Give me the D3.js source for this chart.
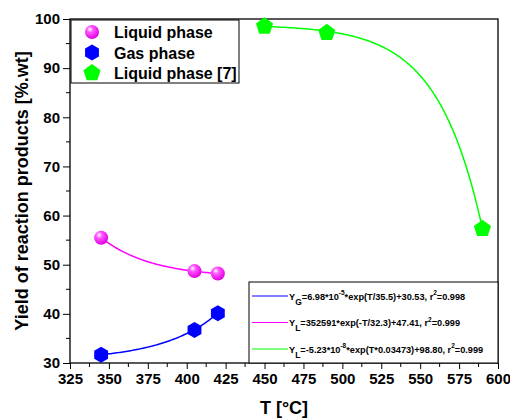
<!DOCTYPE html>
<html>
<head>
<meta charset="utf-8">
<script src="https://cdn.jsdelivr.net/npm/d3@7"></script>
<style>
  body { margin: 0; background: #fff; }
  text { font-family: Arial, "Liberation Sans", sans-serif; font-weight: bold; }
</style>
</head>
<body>
<svg id="chart" width="510" height="418"></svg>
<script>
// measured points
const liquidT = [345, 405, 420];
const liquidY = [55.5, 48.7, 48.2];
const gasT = [345, 405, 420];
const gasY = [31.7, 36.7, 40.1];
const lit7T = [450, 490, 590];
const lit7Y = [98.5, 97.2, 57.3];

// fitted curves, coefficients as printed in the fit legend
// form: y = a*exp(b*T) + c
const fitNames = ['gas', 'liquid', 'lit7'];
const fitA = [6.98e-5, 352591, -5.23e-8];
const fitB = [1 / 35.5, -1 / 32.3, 0.03473];
const fitC = [30.53, 47.41, 98.80];
const fitFrom = [345, 345, 450];
const fitTo = [420, 420, 590];
const fitColors = ['#0000ff', '#ff00ff', '#00ff00'];

const xTicks = [325, 350, 375, 400, 425, 450, 475, 500, 525, 550, 575, 600];
const yTicks = [30, 40, 50, 60, 70, 80, 90, 100];

const svg = d3.select('#chart');
const pLeft = 70, pRight = 498, pTop = 19, pBottom = 363;

const xScale = d3.scaleLinear().domain([325, 600]).range([pLeft, pRight]);
const yScale = d3.scaleLinear().domain([30, 100]).range([pBottom, pTop]);

// sphere gradient
const defs = svg.append('defs');
const grad = defs.append('radialGradient')
    .attr('id', 'sphere')
    .attr('cx', '40%').attr('cy', '35%').attr('r', '65%')
    .attr('fx', '35%').attr('fy', '30%');
grad.append('stop').attr('offset', '0%').attr('stop-color', '#ffffff');
grad.append('stop').attr('offset', '35%').attr('stop-color', '#ff55ff');
grad.append('stop').attr('offset', '100%').attr('stop-color', '#e000e0');

function polygon(n, r, rot) {
    const pts = d3.range(n).map(i => {
        const a = rot + i * 2 * Math.PI / n;
        return [r * Math.cos(a), r * Math.sin(a)];
    });
    return 'M' + pts.join('L') + 'Z';
}
const hexPath = polygon(6, 8, -Math.PI / 2);
const pentPath = polygon(5, 9, -Math.PI / 2);

function drawSphere(g, x, y) {
    g.append('circle').attr('cx', x).attr('cy', y).attr('r', 7).attr('fill', 'url(#sphere)');
}
function drawHex(g, x, y) {
    g.append('path').attr('d', hexPath).attr('transform', `translate(${x},${y})`).attr('fill', '#0000ff');
}
function drawPent(g, x, y) {
    g.append('path').attr('d', pentPath).attr('transform', `translate(${x},${y})`).attr('fill', '#00ff00');
}

//x-Axis
const xAxis = d3.axisBottom(xScale).tickValues(xTicks).tickSize(6).tickPadding(4).tickFormat(d3.format('d'));
const xg = svg.append('g').attr('transform', `translate(0,${pBottom})`).call(xAxis);
xg.selectAll('text').attr('font-size', 15).attr('fill', '#000').attr('font-weight', 'bold');
xg.select('.domain').remove();
const xMinor = d3.range(337.5, 600, 25);
xg.selectAll('.minor').data(xMinor).enter().append('line')
    .attr('x1', d => xScale(d)).attr('x2', d => xScale(d))
    .attr('y1', 0).attr('y2', 4).attr('stroke', '#000');

//y-Axis
const yAxis = d3.axisLeft(yScale).tickValues(yTicks).tickSize(7).tickPadding(3);
const yg = svg.append('g').attr('transform', `translate(${pLeft},0)`).call(yAxis);
yg.selectAll('text').attr('font-size', 15).attr('fill', '#000').attr('font-weight', 'bold');
yg.select('.domain').remove();
const yMinor = d3.range(35, 100, 10);
yg.selectAll('.minor').data(yMinor).enter().append('line')
    .attr('x1', 0).attr('x2', -4)
    .attr('y1', d => yScale(d)).attr('y2', d => yScale(d)).attr('stroke', '#000');

// frame
svg.append('rect')
    .attr('x', pLeft).attr('y', pTop)
    .attr('width', pRight - pLeft).attr('height', pBottom - pTop)
    .attr('fill', 'none').attr('stroke', '#000').attr('stroke-width', 1.3);

// axis labels
svg.append('text')
    .attr('x', (pLeft + pRight) / 2).attr('y', 414)
    .attr('text-anchor', 'middle').attr('font-size', 18)
    .text('T [°C]');
svg.append('text')
    .attr('transform', `translate(28,${(pTop + pBottom) / 2}) rotate(-90)`)
    .attr('text-anchor', 'middle').attr('font-size', 18)
    .text('Yield of reaction products [%.wt]');

// fit curves
const line = d3.line().x(d => xScale(d[0])).y(d => yScale(d[1]));
fitNames.forEach((name, i) => {
    const ts = d3.range(fitFrom[i], fitTo[i] + 0.01, 1);
    const pts = ts.map(t => [t, fitA[i] * Math.exp(fitB[i] * t) + fitC[i]]);
    svg.append('path').datum(pts)
        .attr('d', line)
        .attr('fill', 'none')
        .attr('stroke', fitColors[i])
        .attr('stroke-width', 1.5);
});

// markers
const marks = svg.append('g');
liquidT.forEach((t, i) => drawSphere(marks, xScale(t), yScale(liquidY[i])));
gasT.forEach((t, i) => drawHex(marks, xScale(t), yScale(gasY[i])));
lit7T.forEach((t, i) => drawPent(marks, xScale(t), yScale(lit7Y[i])));

// top-left legend
const leg = svg.append('g');
leg.append('rect').attr('x', 71).attr('y', 20).attr('width', 168).attr('height', 63)
    .attr('fill', '#fff').attr('stroke', '#000').attr('stroke-width', 1);
const legLabels = ['Liquid phase', 'Gas phase', 'Liquid phase [7]'];
const legDraw = [drawSphere, drawHex, drawPent];
legLabels.forEach((lab, i) => {
    const y = 32 + i * 20.5;
    legDraw[i](leg, 92, y);
    leg.append('text').attr('x', 114).attr('y', y + 6).attr('font-size', 16).text(lab);
});

// fit legend
const fl = svg.append('g');
fl.append('rect').attr('x', 249).attr('y', 282).attr('width', pRight - 249).attr('height', pBottom - 282)
    .attr('fill', '#fff').attr('stroke', '#000').attr('stroke-width', 1);
const fitLabels = [
    [['Y', 0], ['G', 1], ['=6.98*10', 0], ['-5', -1], ['*exp(T/35.5)+30.53, r', 0], ['2', -1], ['=0.998', 0]],
    [['Y', 0], ['L', 1], ['=352591*exp(-T/32.3)+47.41, r', 0], ['2', -1], ['=0.999', 0]],
    [['Y', 0], ['L', 1], ['=-5.23*10', 0], ['-8', -1], ['*exp(T*0.03473)+98.80, r', 0], ['2', -1], ['=0.999', 0]]
];
fitLabels.forEach((parts, i) => {
    const y = 296 + i * 26.5;
    fl.append('line').attr('x1', 252).attr('x2', 288).attr('y1', y).attr('y2', y)
        .attr('stroke', fitColors[i]).attr('stroke-width', 1.2);
    const t = fl.append('text').attr('x', 289).attr('y', y + 3.5).attr('font-size', 9.2);
    let shift = 0;
    parts.forEach(([s, k]) => {
        const target = k === 1 ? 5 : k === -1 ? -4.5 : 0;
        t.append('tspan')
            .attr('dy', target - shift)
            .attr('font-size', k === 1 ? 8.5 : k === -1 ? 6.5 : 9.2)
            .text(s);
        shift = target;
    });
});
</script>
</body>
</html>
